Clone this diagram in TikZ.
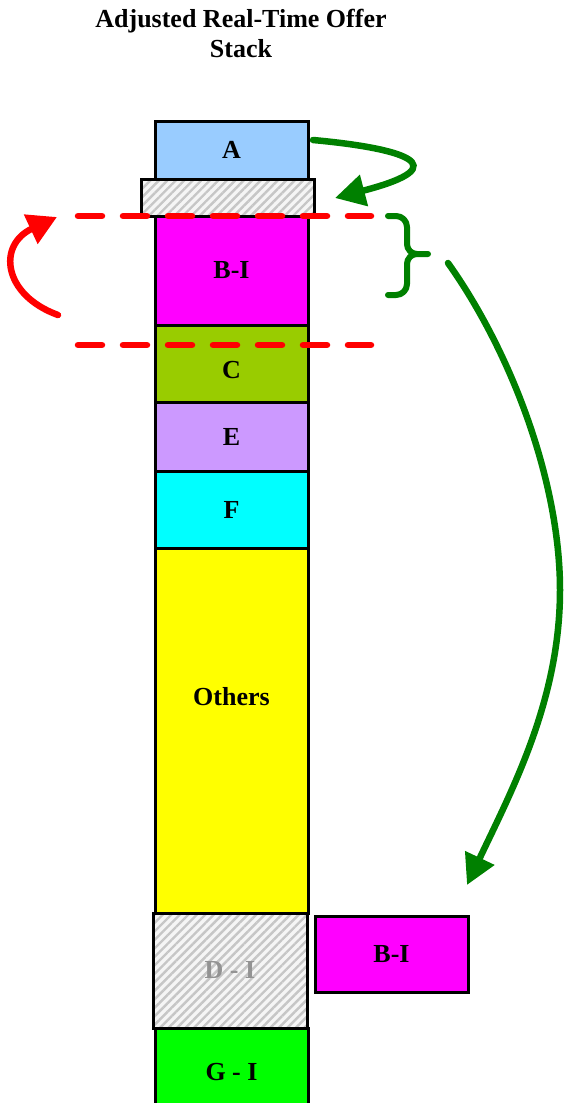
\documentclass[tikz,border=0pt]{standalone}
\usepackage{fontspec}
\setmainfont{Liberation Serif}
\usetikzlibrary{arrows.meta,patterns.meta}
\definecolor{boxA}{HTML}{99CCFF}
\definecolor{boxB}{HTML}{FF00FF}
\definecolor{boxC}{HTML}{99CC00}
\definecolor{boxE}{HTML}{CC99FF}
\definecolor{boxF}{HTML}{00FFFF}
\definecolor{boxO}{HTML}{FFFF00}
\definecolor{boxG}{HTML}{00FF00}
\definecolor{moveG}{HTML}{008000}
\definecolor{cutR}{HTML}{FF0000}
\begin{document}
\begin{tikzpicture}[x=1pt,y=-1pt,
  txt/.style={font=\bfseries\fontsize{26}{30}\selectfont,inner sep=0pt},
  blk/.style={txt,draw=black,line width=3pt,rectangle,minimum width=153pt},
  hatched/.style={preaction={fill=gray!8},
    pattern={Lines[angle=45,distance=6pt,line width=2.4pt]},pattern color=gray!45},
  reddash/.style={draw=cutR,line width=6.5pt,dash pattern=on 24pt off 21pt,line cap=round},
  grnarrow/.style={draw=moveG,line width=6.5pt,line cap=round,
    -{Triangle[length=30pt,width=31pt]}},
  redarrow/.style={draw=cutR,line width=6.5pt,line cap=round,
    -{Triangle[length=29pt,width=31pt]}}]
\useasboundingbox (0,0) rectangle (563,1103);

% title
\node (title) at (241,33) [align=center,font=\bfseries\fontsize{26}{30}\selectfont]
  {Adjusted Real-Time Offer\\Stack};

% offer stack
\node[blk,fill=boxA,minimum height=58pt] (A) at (231.5,150) {A};
\node[blk,hatched,minimum width=173pt,minimum height=37pt] (H) at (227.5,197.5) {};
\node[blk,fill=boxB,minimum height=109pt] (B) at (231.5,270.5) {B-I};
\node[blk,fill=boxC,minimum height=77pt] (C) at (231.5,363.5) {};
\node[txt] (Ct) at (231.5,370) {C};
\node[blk,fill=boxE,minimum height=69pt] (E) at (231.5,436.5) {E};
\node[blk,fill=boxF,minimum height=77pt] (F) at (231.5,509.5) {F};
\node[blk,fill=boxO,minimum height=365pt] (O) at (231.5,730.5) {};
\node[txt] (Ot) at (231.5,697) {Others};
\node[blk,hatched,minimum width=154pt,minimum height=115pt,text=gray!85] (D) at (230,970.5) {D - I};
\node[blk,fill=boxG,minimum height=84pt] (G) at (231.5,1070) {};
\node[txt] (Gt) at (231.5,1072) {G - I};
\node[blk,fill=boxB,minimum height=76pt] (B2) at (391.5,954) {B-I};

% dashed band around B-I
\coordinate (t1) at (78,216);
\coordinate (t2) at (371,216);
\coordinate (b1) at (78,345);
\coordinate (b2) at (371,345);
\draw[reddash] (t1) -- (t2);
\draw[reddash] (b1) -- (b2);

% red curved arrow on the left
\coordinate (r1) at (58,315);
\coordinate (r2) at (57,217);
\draw[redarrow] (r1) .. controls (3,295) and (-3,245) .. (r2);

% green arrow from A down to the hatched slot
\coordinate (g1) at (313,140);
\coordinate (g2) at (335,198);
\draw[grnarrow] (g1) .. controls (400,148) and (462,165) .. (g2);

% green brace
\draw[moveG,line width=6pt,line cap=round,line join=round]
  (388,216) -- (396,216) to[out=0,in=90] (407,227) -- (407,244)
  to[out=-90,in=180] (417,254) -- (428,254)
  (417,254) to[out=180,in=90] (407,264) -- (407,284)
  to[out=-90,in=0] (396,295) -- (388,295);

% long green arrow to the moved B-I block
\coordinate (m1) at (448,263);
\coordinate (m2) at (467,885);
\draw[grnarrow] (m1) .. controls (510,350) and (560,480) .. (560,590)
  .. controls (560,700) and (512,790) .. (m2);
\end{tikzpicture}
\end{document}
